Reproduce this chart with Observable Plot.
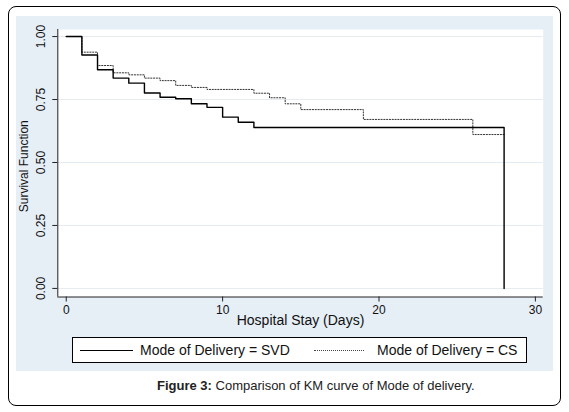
<!DOCTYPE html>
<html>
<head>
<meta charset="utf-8">
<script src="https://cdn.jsdelivr.net/npm/d3@7"></script>
<script src="https://cdn.jsdelivr.net/npm/@observablehq/plot@0.6"></script>
<style>
  body { margin: 0; background: #fff; font-family: "Liberation Sans", Arial, sans-serif; }
  #wrap { position: relative; width: 569px; height: 412px; background: #fff; overflow: hidden; }
  #border { position: absolute; left: 8px; top: 6px; width: 553px; height: 400px; border: 1px solid #000; border-radius: 8px; box-sizing: border-box; }
  #panel { position: absolute; left: 16px; top: 16px; width: 537px; height: 355px; background: #e6eef6; }
  #chart { position: absolute; left: 16px; top: 16px; }
  #legend { position: absolute; left: 72px; top: 337px; width: 455px; height: 26px; border: 1px solid #000; background: #fff; box-sizing: border-box; }
  .lg-line { position: absolute; top: 12px; height: 0; }
  .lg-text { position: absolute; top: 4px; font-size: 14px; line-height: 16px; color: #111; white-space: nowrap; }
  #caption { position: absolute; left: 157px; top: 378px; font-size: 13px; line-height: 16px; color: #222; white-space: nowrap; }
</style>
</head>
<body>
<div id="wrap">
  <div id="border"></div>
  <div id="panel"></div>
  <div id="chart"></div>
  <div id="legend">
    <div class="lg-line" style="left:7px;width:53px;border-top:1.3px solid #000;"></div>
    <div class="lg-text" style="left:67px;">Mode of Delivery = SVD</div>
    <div class="lg-line" style="left:241px;width:50px;border-top:1px dotted #444;"></div>
    <div class="lg-text" style="left:304px;">Mode of Delivery = CS</div>
  </div>
  <div id="caption"><b>Figure 3:</b> Comparison of KM curve of Mode of delivery.</div>
</div>
<script>
// Kaplan-Meier step points (day, survival)
const svdDays = [0, 1, 2, 3, 4, 5, 6, 7, 8, 9, 10, 11, 12, 28];
const svdSurv = [1.00, 0.927, 0.868, 0.835, 0.815, 0.776, 0.759, 0.753, 0.733, 0.719, 0.680, 0.660, 0.639, 0.0];
const csDays = [0, 1, 2, 3, 4, 5, 6, 7, 8, 9, 12, 13, 14, 15, 19, 26, 28];
const csSurv = [1.00, 0.938, 0.885, 0.856, 0.848, 0.835, 0.825, 0.806, 0.798, 0.790, 0.775, 0.757, 0.733, 0.710, 0.671, 0.611, 0.611];
const xTicks = [0, 10, 20, 30];
const yTicks = [0, 0.25, 0.5, 0.75, 1];

const svd = svdDays.map((d, i) => ({day: d, s: svdSurv[i]}));
const cs = csDays.map((d, i) => ({day: d, s: csSurv[i]}));

const xDom = [-0.54, 30.5];
const yDom = [-0.034, 1.028];

const chart = Plot.plot({
  width: 537,
  height: 320,
  marginLeft: 41.3,
  marginRight: 10.3,
  marginTop: 13,
  marginBottom: 39.5,
  style: {fontFamily: "'Liberation Sans', Arial, sans-serif", background: "transparent", color: "#111"},
  x: {type: "linear", domain: xDom, axis: null},
  y: {type: "linear", domain: yDom, axis: null},
  marks: [
    Plot.frame({fill: "white", stroke: null}),
    Plot.gridY(yTicks, {stroke: "#e4ebf1", strokeOpacity: 1, strokeWidth: 1}),
    Plot.ruleX([xDom[0]], {stroke: "#222", strokeWidth: 1}),
    Plot.ruleY([yDom[0]], {stroke: "#222", strokeWidth: 1}),
    Plot.axisY({ticks: yTicks, tickSize: 5, tickFormat: () => "", stroke: "#222", label: null}),
    Plot.axisX({ticks: xTicks, tickSize: 5, tickPadding: 3, fontSize: 12, tickFormat: d3.format("d"), label: null, stroke: "#222", fill: "#111"}),
    Plot.text(yTicks, {y: d => d, text: d3.format(".2f"), frameAnchor: "left", dx: -17, rotate: -90, fontSize: 12, fill: "#111", textAnchor: "middle"}),
    Plot.text(["Survival Function"], {frameAnchor: "left", dx: -34, dy: 3, rotate: -90, fontSize: 12, fill: "#111", textAnchor: "middle"}),
    Plot.text(["Hospital Stay (Days)"], {frameAnchor: "bottom", dy: 28, fontSize: 14, fill: "#111", textAnchor: "middle"}),
    Plot.line(cs, {x: "day", y: "s", curve: "step-after", stroke: "#333", strokeWidth: 1, strokeDasharray: "1.2,1.6"}),
    Plot.line(svd, {x: "day", y: "s", curve: "step-after", stroke: "#000", strokeWidth: 1.4})
  ]
});
document.getElementById("chart").appendChild(chart);
</script>
</body>
</html>
